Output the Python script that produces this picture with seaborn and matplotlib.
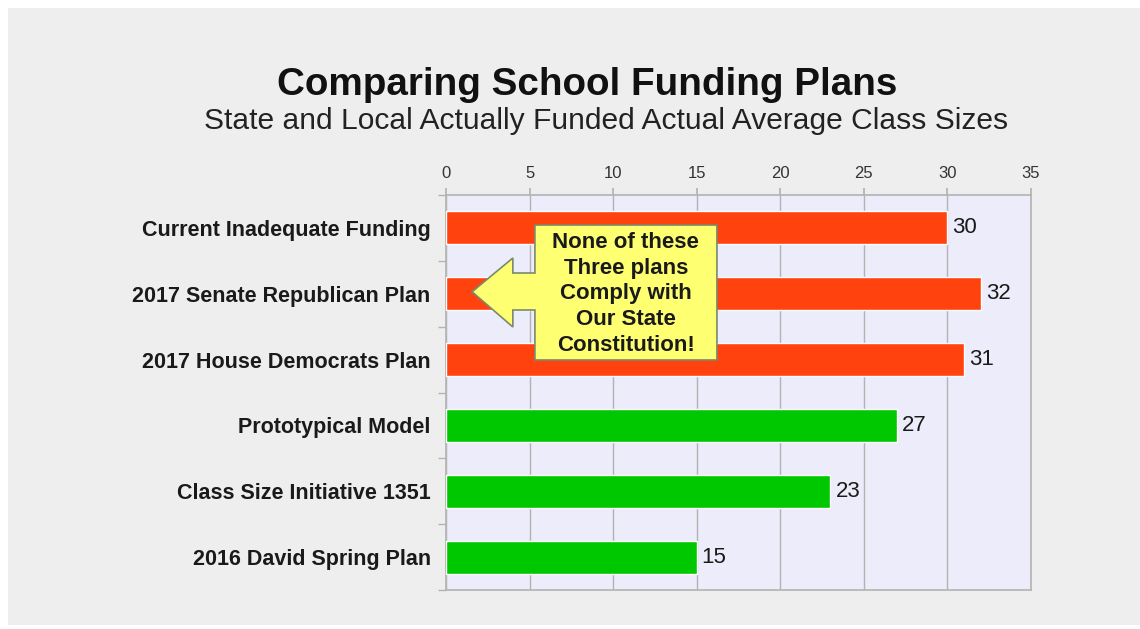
import matplotlib
matplotlib.use("Agg")
import matplotlib.pyplot as plt
import seaborn as sns
from matplotlib.patches import Rectangle, Polygon

# Data
plans = [
    "Current Inadequate Funding",
    "2017 Senate Republican Plan",
    "2017 House Democrats Plan",
    "Prototypical Model",
    "Class Size Initiative 1351",
    "2016 David Spring Plan",
]
class_sizes = [30, 32, 31, 27, 23, 15]
bar_colors = ["#ff420e", "#ff420e", "#ff420e", "#00c800", "#00c800", "#00c800"]
x_ticks = [0, 5, 10, 15, 20, 25, 30, 35]

sns.set_theme(style="white")
plt.rcParams["font.family"] = ["Liberation Sans", "DejaVu Sans"]

fig = plt.figure(figsize=(11.4, 6.29), dpi=100, facecolor="white")

# gray panel behind everything
fig.patches.append(Rectangle((8 / 1140, 4 / 629), 1 - 8 / 1140, 617 / 629,
                             transform=fig.transFigure, facecolor="#eeeeee",
                             edgecolor="none", zorder=-10))

ax = fig.add_axes([446 / 1140, 39 / 629, 585 / 1140, 395 / 629])
ax.set_facecolor("#ececfa")

sns.barplot(
    x=class_sizes,
    y=plans,
    hue=plans,
    palette=bar_colors,
    legend=False,
    orient="h",
    width=0.5,
    saturation=1,
    ax=ax,
    zorder=3,
)

ax.set_xlim(0, 35)
ax.set_ylim(5.5, -0.5)
ax.set_xticks(x_ticks)
ax.xaxis.tick_top()
ax.tick_params(axis="x", length=5, pad=5, colors="#333333", labelsize=12,
               color="#b3b3b3", top=True, bottom=False)
ax.grid(axis="x", color="#b3b3b3", linewidth=1, zorder=0)
ax.set_axisbelow(True)

# category boundary ticks on y axis
ax.set_yticks([i - 0.5 for i in range(len(plans) + 1)], minor=True)
ax.tick_params(axis="y", which="major", length=0, pad=11, labelsize=15.5)
ax.tick_params(axis="y", which="minor", length=6, color="#b3b3b3", left=True)
for lbl in ax.get_yticklabels():
    lbl.set_fontweight("bold")
    lbl.set_color("#1a1a1a")

for s in ax.spines.values():
    s.set_color("#b3b3b3")
    s.set_linewidth(1.2)

ax.set_xlabel("")
ax.set_ylabel("")

# value labels
for i, v in enumerate(class_sizes):
    ax.text(v + 0.3, i, str(v), va="center", ha="left", fontsize=16,
            color="#1a1a1a")

# callout box with arrow pointing left
bl, br, bt, bb = 5.32, 16.21, -0.044, 2.006
hx, tipx, tipy = 4.0, 1.56, 0.97
pts = [(bl, bt), (br, bt), (br, bb), (bl, bb), (bl, 1.247), (hx, 1.247),
       (hx, 1.505), (tipx, tipy), (hx, 0.457), (hx, 0.685), (bl, 0.685)]
ax.add_patch(Polygon(pts, closed=True, facecolor="#ffff72", edgecolor="#7a8a6a",
                     linewidth=1.2, zorder=5, clip_on=False))
ax.text((bl + br) / 2, (bt + bb) / 2 + 0.02,
        "None of these\nThree plans\nComply with\nOur State\nConstitution!",
        ha="center", va="center", fontsize=16, fontweight="bold",
        color="#1a1a1a", linespacing=1.3, zorder=6)

fig.text(587 / 1140, 1 - 85 / 629, "Comparing School Funding Plans",
         ha="center", va="center", fontsize=27.8, fontweight="bold", color="#111111")
fig.text(606 / 1140, 1 - 121 / 629,
         "State and Local Actually Funded Actual Average Class Sizes",
         ha="center", va="center", fontsize=21.6, color="#222222")

fig.savefig("out.png", dpi=100, facecolor=fig.get_facecolor())
